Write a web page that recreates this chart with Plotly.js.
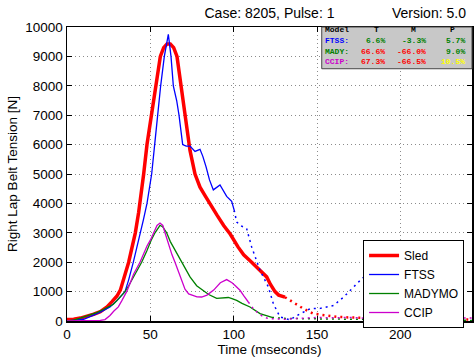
<!DOCTYPE html>
<html>
<head>
<meta charset="utf-8">
<script src="https://cdn.plot.ly/plotly-3.0.1.min.js"></script>
<style>html,body{margin:0;padding:0;background:#fff;}#chart{width:474px;height:358px;}</style>
</head>
<body>
<div id="chart"></div>
<script>
// ---- Data ----
var sledT = [0,4,8,12,16,20,24,27,30,32,34.5,37,39,41,43,44.5,46,48,50.5,53,56,58,60,62,64,66,68.4,70.8,72.8,73.8,76.8,79.8,83,86.5,90,94,98,102.6,106,110.8,115,119.8,122,124.8,127,130.8];
var sledV = [50,60,100,160,230,320,480,660,850,1050,1500,2000,2500,3000,3700,4300,5000,6000,7000,8000,9000,9300,9420,9420,9300,9000,8000,7000,6000,5800,5000,4550,4250,3950,3600,3250,2950,2520,2250,2000,1750,1500,1250,1000,880,810];
var sledTailT = [130.8,135.8,141.8,147.8,155.8,161.8,170,180,190,200,210,220,230,243];
var sledTailV = [810,640,420,250,190,140,120,100,90,80,70,60,60,50];

var ftssT = [0,5,10,15.6,20,25.8,30,34.8,37,39.8,42,43.8,45.8,48,50.8,52.6,54.2,56.2,58.4,60.8,62.4,63.8,65.8,67.2,69.4,71.5,73.8,76.8,79.8,81.5,83.4,85.5,87.8,91.8,95.8,98.8,100.3];
var ftssV = [0,20,60,190,300,480,700,1000,1400,2000,2500,3000,3430,4000,5000,6000,7000,8000,9000,9750,9000,8000,7500,7000,6000,5950,5950,5770,5840,5600,5250,4800,4460,4630,4240,4070,3770];
var ftssTailT = [100.3,101.8,104,107.8,110.8,115.8,120.8,123.8,127.8,133.8,140,146,152,160,166,172,177,185,195,210,222];
var ftssTailV = [3770,3370,3250,3140,2520,1725,1160,590,136,40,250,420,430,530,816,1156,1442,1800,2100,2300,2400];

var madyT = [0,4,7.8,12,17.8,22,27.8,31,34.8,37,39.8,42,44.8,48,50.5,52.8,55.8,57.5,59.8,62,65,68,73.8,77.8,81.8,85,89.8,93,96.8,99,101.8,105,109.8,115.8,121.8,123];
var madyV = [0,30,100,180,285,400,570,760,1000,1200,1480,1700,2000,2400,2750,3000,3255,3200,3000,2700,2400,2100,1500,1200,1030,900,770,780,800,760,700,600,476,250,136,120];
var madyTailT = [123,130,140,150,160,170,180,200,220,243];
var madyTailV = [120,90,80,70,60,60,50,40,30,20];

var ccipT = [0,10,18,20,22.8,25.8,28,30.8,33,35.8,38,40,43.8,46,48,50,51.8,54,55.8,57.5,58.8,61,63,64.8,67.8,70.8,73,76,78,80.8,84,88,92,95.8,99,101,103.8,106,108.8];
var ccipV = [0,0,10,20,50,190,330,480,700,1000,1300,1600,2000,2300,2550,2750,3000,3250,3333,3250,3000,2600,2250,2000,1550,1080,920,850,820,816,880,1050,1300,1408,1300,1200,1045,860,646];
var ccipTailT = [108.8,112,115,118,121,125,130,140,150,160,170,180,190,200,210,220,230,243];
var ccipTailV = [646,400,250,140,80,60,60,90,120,110,120,90,100,110,120,100,110,100];

var xTicks = [0,50,100,150,200];
var yTicks = [0,1000,2000,3000,4000,5000,6000,7000,8000,9000,10000];

var tableModels = ["FTSS:","MADY:","CCIP:"];
var tableModelColors = ["#0000ff","#008000","#cc00cc"];
var tableT = ["6.6%","66.6%","67.3%"];
var tableM = ["-3.3%","-66.0%","-66.5%"];
var tableP = ["5.7%","9.0%","10.5%"];
var tableTColors = ["#008000","#ff0000","#ff0000"];
var tableMColors = ["#008000","#ff0000","#ff0000"];
var tablePColors = ["#008000","#008000","#ffff00"];

// ---- Traces ----
var RED = "#ff0000", BLUE = "#0000ff", GREEN = "#008000", MAG = "#cc00cc";
var traces = [
  {x: sledT, y: sledV, name: "Sled", mode: "lines", line: {color: RED, width: 3.5}},
  {x: ftssT, y: ftssV, name: "FTSS", mode: "lines", line: {color: BLUE, width: 1.3}},
  {x: madyT, y: madyV, name: "MADYMO", mode: "lines", line: {color: GREEN, width: 1.3}},
  {x: ccipT, y: ccipV, name: "CCIP", mode: "lines", line: {color: MAG, width: 1.3}},
  {x: sledTailT, y: sledTailV, showlegend: false, mode: "lines", line: {color: RED, width: 2.5, dash: "2px,4px"}},
  {x: ftssTailT, y: ftssTailV, showlegend: false, mode: "lines", line: {color: BLUE, width: 1.5, dash: "2px,4px"}},
  {x: madyTailT, y: madyTailV, showlegend: false, mode: "lines", line: {color: GREEN, width: 1.5, dash: "2px,4px"}},
  {x: ccipTailT, y: ccipTailV, showlegend: false, mode: "lines", line: {color: MAG, width: 1.5, dash: "2px,4px"}}
];

// ---- Table annotations ----
var FONT = "Liberation Sans, Arial, sans-serif";
var MONO = "Liberation Mono, Courier New, monospace";
var rowY = [0.955, 0.916, 0.881];
var ann = [];
ann.push({xref:"paper", yref:"paper", x:0.632, y:0.993, xanchor:"left", yanchor:"middle", showarrow:false, text:"<b>Model</b>", font:{family:MONO, size:8, color:"#000"}});
ann.push({xref:"paper", yref:"paper", x:0.765, y:0.993, xanchor:"center", yanchor:"middle", showarrow:false, text:"<b>T</b>", font:{family:MONO, size:8, color:"#000"}});
ann.push({xref:"paper", yref:"paper", x:0.855, y:0.993, xanchor:"center", yanchor:"middle", showarrow:false, text:"<b>M</b>", font:{family:MONO, size:8, color:"#000"}});
ann.push({xref:"paper", yref:"paper", x:0.953, y:0.993, xanchor:"center", yanchor:"middle", showarrow:false, text:"<b>P</b>", font:{family:MONO, size:8, color:"#000"}});
for (var i = 0; i < tableModels.length; i++) {
  ann.push({xref:"paper", yref:"paper", x:0.632, y:rowY[i], xanchor:"left", yanchor:"middle", showarrow:false, text:"<b>"+tableModels[i]+"</b>", font:{family:MONO, size:8, color:tableModelColors[i]}});
  ann.push({xref:"paper", yref:"paper", x:0.790, y:rowY[i], xanchor:"right", yanchor:"middle", showarrow:false, text:"<b>"+tableT[i]+"</b>", font:{family:MONO, size:8, color:tableTColors[i]}});
  ann.push({xref:"paper", yref:"paper", x:0.891, y:rowY[i], xanchor:"right", yanchor:"middle", showarrow:false, text:"<b>"+tableM[i]+"</b>", font:{family:MONO, size:8, color:tableMColors[i]}});
  ann.push({xref:"paper", yref:"paper", x:0.988, y:rowY[i], xanchor:"right", yanchor:"middle", showarrow:false, text:"<b>"+tableP[i]+"</b>", font:{family:MONO, size:8, color:tablePColors[i]}});
}
ann.push({xref:"paper", yref:"paper", x:0.99, y:1.012, xanchor:"right", yanchor:"bottom", showarrow:false, text:"Version: 5.0", font:{family:FONT, size:14, color:"#000"}});

var layout = {
  width: 474, height: 358,
  margin: {l: 67, r: 2, t: 27, b: 37},
  paper_bgcolor: "#ffffff", plot_bgcolor: "#ffffff",
  font: {family: FONT, size: 13.5, color: "#000"},
  title: {text: "Case: 8205, Pulse: 1", x: 0.5, xref: "paper", xanchor: "center", y: 1 - 13/358, yref: "container", yanchor: "middle", font: {family: FONT, size: 14, color: "#000"}},
  xaxis: {
    range: [0, 243], tickvals: xTicks, ticktext: xTicks.map(String),
    ticks: "inside", ticklen: 5, tickcolor: "#000", showline: true, linecolor: "#000", linewidth: 1.5, mirror: "ticks",
    showgrid: true, gridcolor: "#8c8c8c", gridwidth: 1, griddash: "1px,3px", zeroline: false,
    tickfont: {family: FONT, size: 13.5, color: "#000"},
    title: {text: "Time (mseconds)", font: {family: FONT, size: 13.5, color: "#000"}, standoff: 0},
    automargin: false
  },
  yaxis: {
    range: [0, 10000], tickvals: yTicks, ticktext: yTicks.map(String),
    ticks: "inside", ticklen: 5, tickcolor: "#000", showline: true, linecolor: "#000", linewidth: 1.5, mirror: "ticks",
    showgrid: true, gridcolor: "#8c8c8c", gridwidth: 1, griddash: "1px,3px", zeroline: false,
    tickfont: {family: FONT, size: 13.5, color: "#000"},
    title: {text: "Right Lap Belt Tension [N]", font: {family: FONT, size: 13.5, color: "#000"}, standoff: 4},
    automargin: false
  },
  legend: {
    x: 0.731, y: 0.2755, xanchor: "left", yanchor: "top",
    bgcolor: "#ffffff", bordercolor: "#000", borderwidth: 1, entrywidth: 70, entrywidthmode: "pixels",
    font: {family: FONT, size: 12, color: "#000"}, tracegroupgap: 0
  },
  shapes: [
    {type: "rect", xref: "paper", yref: "paper", x0: 0.629, x1: 1.0, y0: 0.858, y1: 1.0, fillcolor: "#c8c8c8", line: {color: "#444", width: 1}, layer: "above"}
  ],
  annotations: ann,
  showlegend: true
};

Plotly.newPlot("chart", traces, layout, {staticPlot: true, displayModeBar: false});
</script>
</body>
</html>
